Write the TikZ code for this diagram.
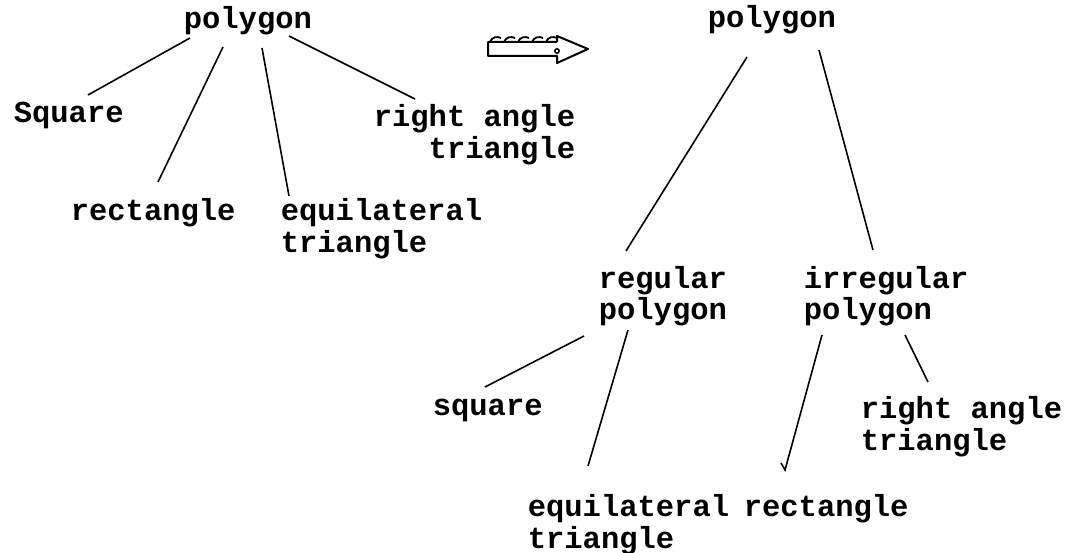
\documentclass[tikz,border=0pt]{standalone}
\usepackage{fontspec}
\newfontfamily\treefont{Liberation Mono}
\begin{document}
\begin{tikzpicture}[x=1pt,y=-1pt,line width=1.6pt,
  every node/.style={inner sep=0pt,anchor=base west,font={\treefont\bfseries\fontsize{30.5}{32}\selectfont}}]
  \useasboundingbox (0,0) rectangle (1085,553);

  \node (p0) at (183,29) {polygon};
  \node (s0) at (13,123) {Square};
  \node (r0) at (70,221) {rectangle};
  \node (e0) at (280,253) [align=left] {equilateral\\triangle};
  \node (t0) at (373,159) [align=right] {right angle\\triangle};

  \node (p1) at (707,28) {polygon};
  \node (g1) at (598,320) [align=left] {regular\\polygon};
  \node (i1) at (803,320) [align=left] {irregular\\polygon};
  \node (s1) at (432,416) {square};
  \node (t1) at (860,450) [align=left] {right angle\\triangle};
  \node (e1) at (527,548) [align=left] {equilateral\\triangle};
  \node (r1) at (743,516) {rectangle};

  \draw ([shift={(7,9)}]p0.base west) -- ([shift={(75,-28)}]s0.base west);
  \draw ([shift={(40,18)}]p0.base west) -- ([shift={(88,-39)}]r0.base west);
  \draw ([shift={(79,19)}]p0.base west) -- ([shift={(9,-57)}]e0.base west);
  \draw ([shift={(106,7)}]p0.base west) -- ([shift={(42,-60)}]t0.base west);

  \draw ([shift={(40,29)}]p1.base west) -- ([shift={(28,-69)}]g1.base west);
  \draw ([shift={(112,22)}]p1.base west) -- ([shift={(70,-70)}]i1.base west);
  \draw ([shift={(-14,16)}]g1.base west) -- ([shift={(53,-29)}]s1.base west);
  \draw ([shift={(30,10)}]g1.base west) -- ([shift={(61,-82)}]e1.base west);
  \draw ([shift={(19,15)}]i1.base west) -- ([shift={(42,-46)}]r1.base west) -- ++(-4,-7);
  \draw ([shift={(102,15)}]i1.base west) -- ([shift={(68,-68)}]t1.base west);

  \draw[line width=2pt,line join=round] (557,42) -- (488,42) -- (488,56) -- (557,56) -- (557,63) -- (588,49) -- (557,36) -- (557,42);
  \foreach \xs in {490,504,518,532,546}
    \draw[line width=1.8pt] (\xs,42) .. controls (\xs+2,37) and (\xs+7,36) .. (\xs+11,38);
  \draw[line width=1.5pt] (557,51) circle (2.2);
\end{tikzpicture}
\end{document}
